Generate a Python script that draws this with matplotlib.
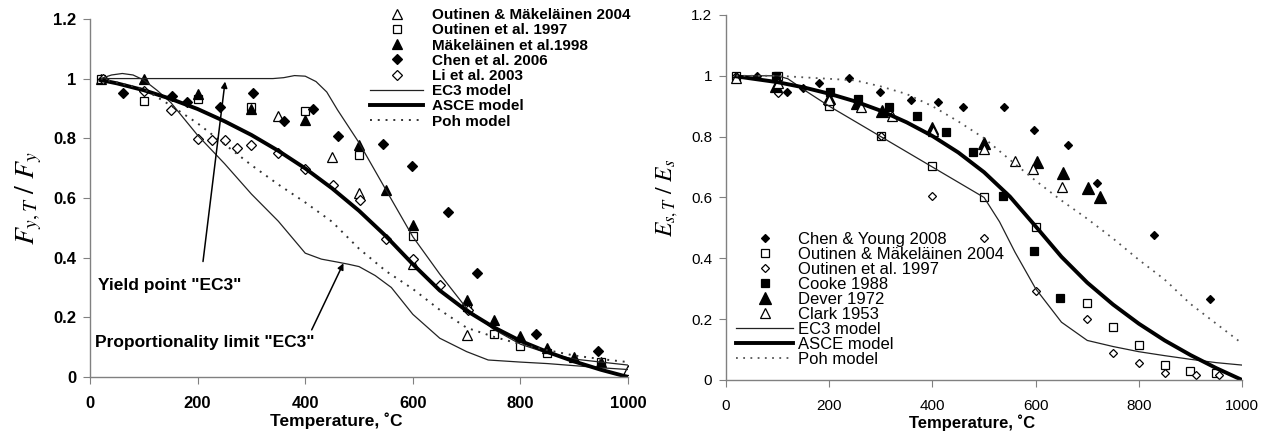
import matplotlib
matplotlib.use('Agg')
import matplotlib.pyplot as plt

plt.rcParams['font.family'] = ['Liberation Sans', 'DejaVu Sans']
plt.rcParams['mathtext.fontset'] = 'stix'

# ---------------- left panel: yield strength ----------------
t_om04 = [20, 350, 450, 500, 600, 700, 1000]
v_om04 = [1.0, 0.876, 0.736, 0.616, 0.379, 0.14, 0.023]

t_o97 = [20, 100, 200, 300, 400, 500, 600, 700, 750, 800, 850, 950]
v_o97 = [1.0, 0.926, 0.93, 0.904, 0.89, 0.745, 0.471, 0.236, 0.143, 0.105, 0.08, 0.051]

t_m98 = [100, 200, 300, 400, 500, 550, 600, 700, 750, 800, 850, 900, 950]
v_m98 = [1.0, 0.949, 0.898, 0.862, 0.778, 0.627, 0.508, 0.258, 0.191, 0.138, 0.096, 0.068, 0.051]

t_chen06 = [62, 152, 181, 242, 302, 360, 415, 460, 544, 598, 665, 720, 828, 944]
v_chen06 = [0.95, 0.943, 0.92, 0.904, 0.951, 0.859, 0.899, 0.809, 0.782, 0.706, 0.553, 0.35, 0.144, 0.087]

t_li03 = [25, 100, 150, 200, 226, 251, 274, 300, 349, 400, 451, 501, 550, 601, 651, 702]
v_li03 = [1.0, 0.96, 0.896, 0.799, 0.795, 0.793, 0.767, 0.778, 0.75, 0.697, 0.644, 0.592, 0.463, 0.395, 0.309, 0.223]

# model curves
t_ec3_fy = [20, 100, 200, 300, 340, 360, 380, 400, 420, 440, 460, 480, 500, 550, 600, 650, 700,
            750, 800, 850, 900, 950, 1000]
v_ec3_fy = [1.0, 1.0, 1.0, 1.0, 1.0, 1.003, 1.01, 1.008, 0.99, 0.955, 0.895, 0.84, 0.785, 0.627,
            0.47, 0.345, 0.23, 0.16, 0.11, 0.08, 0.06, 0.05, 0.04]

t_ec3_fp = [20, 40, 60, 80, 100, 125, 150, 175, 200, 250, 300, 350, 400, 430, 460, 480, 500,
            530, 560, 600, 650, 700, 740, 800, 850, 900, 950, 1000]
v_ec3_fp = [1.0, 1.012, 1.017, 1.012, 0.995, 0.96, 0.92, 0.865, 0.81, 0.715, 0.613, 0.522, 0.415,
            0.395, 0.385, 0.378, 0.37, 0.34, 0.3, 0.21, 0.13, 0.085, 0.057, 0.05, 0.045, 0.038,
            0.031, 0.025]

t_asce_fy = [20, 50, 100, 150, 200, 250, 300, 350, 400, 450, 500, 550, 600, 650, 700, 750, 800,
             850, 900, 950, 1000]
v_asce_fy = [0.995, 0.984, 0.961, 0.932, 0.898, 0.857, 0.811, 0.758, 0.699, 0.632, 0.557, 0.472,
             0.378, 0.29, 0.222, 0.167, 0.121, 0.084, 0.052, 0.024, 0.0]

t_poh_fy = [20, 100, 150, 200, 250, 300, 350, 400, 450, 500, 550, 600, 650, 700, 750, 800, 850,
            900, 950, 1000]
v_poh_fy = [1.0, 0.965, 0.91, 0.85, 0.78, 0.71, 0.645, 0.585, 0.52, 0.43, 0.355, 0.295, 0.225,
            0.165, 0.135, 0.11, 0.09, 0.072, 0.06, 0.05]

# ---------------- right panel: elastic modulus ----------------
t_cy08 = [60, 118, 150, 181, 238, 299, 358, 410, 460, 539, 597, 663, 718, 830, 938]
v_cy08 = [1.0, 0.946, 0.959, 0.976, 0.992, 0.948, 0.919, 0.913, 0.896, 0.899, 0.822, 0.773, 0.647,
          0.477, 0.266]

t_om04e = [20, 100, 200, 300, 400, 500, 600, 700, 750, 800, 850, 900, 950]
v_om04e = [1.0, 1.0, 0.901, 0.803, 0.704, 0.603, 0.502, 0.254, 0.175, 0.115, 0.049, 0.031, 0.022]

t_o97e = [20, 100, 300, 400, 500, 600, 700, 750, 800, 850, 910, 955]
v_o97e = [1.0, 0.943, 0.803, 0.605, 0.466, 0.294, 0.2, 0.088, 0.055, 0.022, 0.016, 0.016]

t_cooke = [96, 201, 256, 316, 370, 426, 479, 537, 596, 647]
v_cooke = [1.0, 0.948, 0.923, 0.898, 0.867, 0.816, 0.751, 0.605, 0.425, 0.269]

t_dever = [97, 200, 254, 302, 400, 500, 602, 653, 702, 725]
v_dever = [0.965, 0.927, 0.91, 0.883, 0.83, 0.779, 0.718, 0.68, 0.63, 0.6]

t_clark = [20, 100, 200, 262, 321, 402, 500, 560, 594, 652]
v_clark = [0.993, 0.976, 0.919, 0.897, 0.868, 0.82, 0.758, 0.721, 0.694, 0.636]

t_ec3_e = [20, 100, 120, 150, 200, 300, 400, 450, 500, 530, 560, 600, 650, 700, 750, 800, 850,
           900, 950, 1000]
v_ec3_e = [1.0, 1.0, 0.99, 0.955, 0.9, 0.8, 0.7, 0.65, 0.6, 0.52, 0.42, 0.3, 0.19, 0.13, 0.11,
           0.093, 0.08, 0.068, 0.057, 0.049]

t_asce_e = [20, 100, 150, 200, 250, 300, 350, 400, 450, 500, 550, 600, 650, 700, 750, 800, 850,
            900, 950, 1000]
v_asce_e = [0.998, 0.979, 0.962, 0.941, 0.916, 0.885, 0.847, 0.802, 0.748, 0.683, 0.603, 0.505,
            0.405, 0.32, 0.248, 0.185, 0.13, 0.082, 0.039, 0.0]

t_poh_e = [20, 100, 200, 250, 300, 350, 400, 450, 500, 550, 600, 650, 700, 750, 800, 850, 900,
           950, 1000]
v_poh_e = [1.0, 1.0, 0.99, 0.985, 0.965, 0.94, 0.9, 0.85, 0.795, 0.724, 0.655, 0.59, 0.53, 0.465,
           0.395, 0.33, 0.25, 0.185, 0.12]

xticks = [0, 200, 400, 600, 800, 1000]
yticks = [0, 0.2, 0.4, 0.6, 0.8, 1.0, 1.2]
ylabels = ['0', '0.2', '0.4', '0.6', '0.8', '1', '1.2']

fig = plt.figure(figsize=(12.66, 4.32), dpi=100)
ax1 = fig.add_axes([0.0711, 0.1273, 0.425, 0.829])
ax2 = fig.add_axes([0.5735, 0.1204, 0.4076, 0.845])

open_m = dict(ls='none', mfc='white', mec='black', mew=0.9)
fill_m = dict(ls='none', mfc='black', mec='black', mew=0.9)

# left panel
ax1.plot(t_om04, v_om04, '^', ms=7, label='Outinen & Mäkeläinen 2004', **open_m)
ax1.plot(t_o97, v_o97, 's', ms=6, label='Outinen et al. 1997', **open_m)
ax1.plot(t_m98, v_m98, '^', ms=7, label='Mäkeläinen et al.1998', **fill_m)
ax1.plot(t_chen06, v_chen06, 'D', ms=5.5, label='Chen et al. 2006', **fill_m)
ax1.plot(t_li03, v_li03, 'D', ms=5.5, label='Li et al. 2003', **open_m)
ax1.plot(t_ec3_fy, v_ec3_fy, color='#222222', lw=0.9, label='EC3 model')
ax1.plot(t_ec3_fp, v_ec3_fp, color='#222222', lw=0.9)
ax1.plot(t_asce_fy, v_asce_fy, color='black', lw=2.8, label='ASCE model')
ax1.plot(t_poh_fy, v_poh_fy, color='#333333', lw=1.4, ls=(0, (1, 3)), label='Poh model')

ax1.legend(loc='upper left', bbox_to_anchor=(0.52, 1.03), frameon=False, handlelength=3.5,
           handletextpad=0.6, labelspacing=0.08, borderpad=0, borderaxespad=0,
           prop={'weight': 'bold', 'size': 11})

arrow = dict(arrowstyle='-|>', color='black', lw=1.1, mutation_scale=9, shrinkA=0, shrinkB=0)
ax1.annotate('', xy=(251, 0.99), xytext=(210, 0.387), arrowprops=arrow)
ax1.annotate('', xy=(471, 0.381), xytext=(412, 0.158), arrowprops=arrow)
ax1.text(15, 0.305, 'Yield point "EC3"', fontsize=12.5, fontweight='bold', va='center')
ax1.text(9, 0.117, 'Proportionality limit "EC3"', fontsize=12.5, fontweight='bold', va='center')

ax1.set_ylabel(r'$F_{y,T}\ /\ F_y$', fontsize=20)
ax1.yaxis.set_label_coords(-0.085, 0.5)
ax1.set_xlabel('Temperature, ˚C', fontsize=12.5, fontweight='bold')
ax1.xaxis.set_label_coords(0.457, -0.1)

# right panel
ax2.plot(t_cy08, v_cy08, 'D', ms=4.5, label='Chen & Young 2008', **fill_m)
ax2.plot(t_om04e, v_om04e, 's', ms=6, label='Outinen & Mäkeläinen 2004', **open_m)
ax2.plot(t_o97e, v_o97e, 'D', ms=4.5, label='Outinen et al. 1997', **open_m)
ax2.plot(t_cooke, v_cooke, 's', ms=6, label='Cooke 1988', **fill_m)
ax2.plot(t_dever, v_dever, '^', ms=9, label='Dever 1972', **fill_m)
ax2.plot(t_clark, v_clark, '^', ms=7, label='Clark 1953', **open_m)
ax2.plot(t_ec3_e, v_ec3_e, color='#222222', lw=0.9, label='EC3 model')
ax2.plot(t_asce_e, v_asce_e, color='black', lw=2.8, label='ASCE model')
ax2.plot(t_poh_e, v_poh_e, color='#555555', lw=1.3, ls=(0, (1, 3)), label='Poh model')

ax2.legend(loc='upper left', bbox_to_anchor=(0.02, 0.405), frameon=False, handlelength=3.4,
           handletextpad=0.3, labelspacing=0.0, borderpad=0, borderaxespad=0,
           prop={'size': 12})

ax2.set_ylabel(r'$E_{s,T}\ /\ E_s$', fontsize=17)
ax2.yaxis.set_label_coords(-0.09, 0.5)
ax2.set_xlabel('Temperature, ˚C', fontsize=12, fontweight='bold')
ax2.xaxis.set_label_coords(0.477, -0.095)

for ax, bold in ((ax1, 'bold'), (ax2, 'normal')):
    ax.set_xlim(0, 1000)
    ax.set_ylim(0, 1.2)
    ax.set_xticks(xticks)
    ax.set_yticks(yticks)
    ax.set_yticklabels(ylabels)
    for side in ('top', 'right'):
        ax.spines[side].set_visible(False)
    for side in ('left', 'bottom'):
        ax.spines[side].set_color('#808080')
        ax.spines[side].set_linewidth(1.0)
    ax.tick_params(direction='out', length=5, color='#808080', labelsize=12 if bold == 'bold' else 11)
    ax.tick_params(axis='x', pad=9)
    ax.tick_params(axis='y', pad=5)
    for lab in ax.get_xticklabels() + ax.get_yticklabels():
        lab.set_fontweight(bold)

fig.savefig('out.png', dpi=100)
